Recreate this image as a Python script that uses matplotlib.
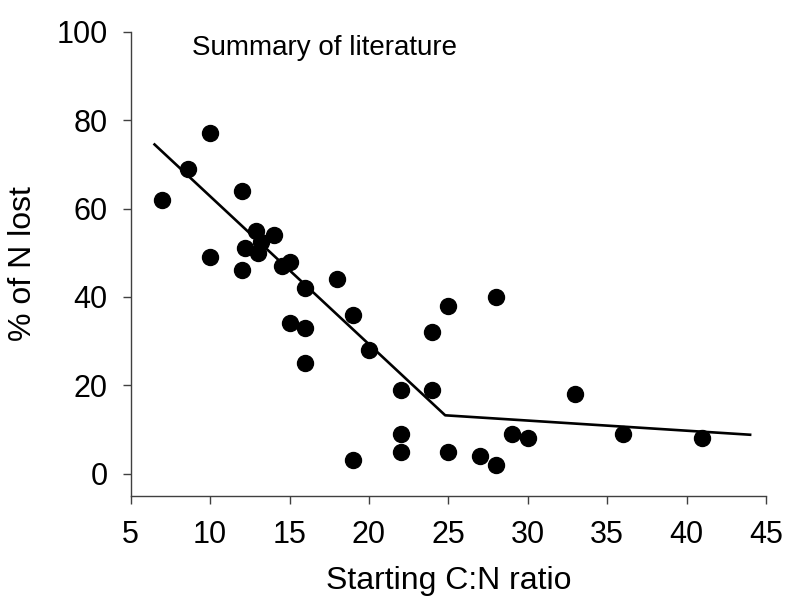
#!/usr/bin/env python3
"""
Percentage of N lost vs starting C:N ratio (summary of literature),
with a broken-stick fit line.
"""

import matplotlib.pyplot as plt

plt.rcParams['font.family'] = ['Liberation Sans', 'DejaVu Sans']

# Observed points
cn_ratio = [7, 8.6, 10, 10, 12, 12, 12.2, 12.9, 13, 13.2, 14, 14.5, 15, 15,
            16, 16, 16, 18, 19, 19, 20, 22, 22, 22, 24, 24, 25, 25, 27, 28,
            28, 29, 30, 33, 36, 41]
n_lost = [62, 69, 77, 49, 64, 46, 51, 55, 50, 52.5, 54, 47, 48, 34,
          42, 33, 25, 44, 36, 3, 28, 19, 9, 5, 32, 19, 38, 5, 4, 40,
          2, 9, 8, 18, 9, 8]

# Broken-stick fit line vertices
fit_x = [6.5, 24.8, 44.0]
fit_y = [74.5, 13.2, 8.8]

xticks = [5, 10, 15, 20, 25, 30, 35, 40, 45]
yticks = [0, 20, 40, 60, 80, 100]

fig = plt.figure(figsize=(7.87, 6.06), dpi=100)
ax = fig.add_axes([0.1661, 0.182, 0.8072, 0.7655])

ax.plot(fit_x, fit_y, color='black', linewidth=1.9, zorder=2)
ax.plot(cn_ratio, n_lost, 'o', color='black', markersize=11.5, zorder=3)

ax.set_xlim(5, 45)
ax.set_ylim(-5, 100)
ax.set_xticks(xticks)
ax.set_yticks(yticks)

for side in ('top', 'right'):
    ax.spines[side].set_visible(False)
for side in ('left', 'bottom'):
    ax.spines[side].set_color('#404040')
    ax.spines[side].set_linewidth(1.0)

ax.tick_params(axis='x', direction='out', length=5.8, width=1.0,
               color='#404040', labelsize=22, pad=12)
ax.tick_params(axis='y', direction='out', length=5.5, width=1.0,
               color='#404040', labelsize=22, pad=11)

ax.set_xlabel('Starting C:N ratio', fontsize=23, labelpad=11)
ax.set_ylabel('% of N lost', fontsize=23, labelpad=13)

ax.text(8.85, 94.7, 'Summary of literature', fontsize=20,
        ha='left', va='baseline')

plt.savefig('out.png', dpi=100, facecolor='white')
plt.close()
